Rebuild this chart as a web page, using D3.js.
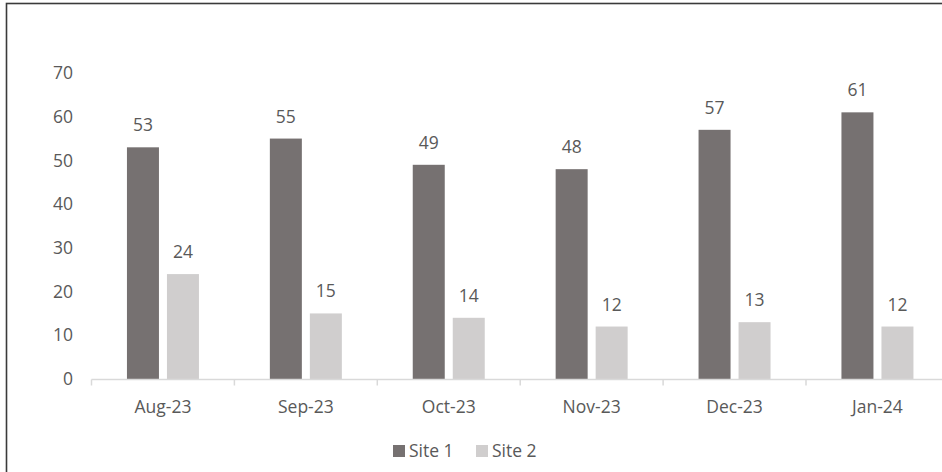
<!DOCTYPE html>
<html>
<head>
<meta charset="utf-8">
<script src="https://cdn.jsdelivr.net/npm/d3@7"></script>
<style>
html,body{margin:0;padding:0;background:#fff;}
svg{display:block;}
text{font-family:"Open Sans","Noto Sans",sans-serif;fill:#595959;}
</style>
</head>
<body>
<svg id="chart" width="942" height="472"></svg>
<script>
const categories = ["Aug-23","Sep-23","Oct-23","Nov-23","Dec-23","Jan-24"];
const seriesNames = ["Site 1","Site 2"];
const site1 = [53,55,49,48,57,61];
const site2 = [24,15,14,12,13,12];
const yTicks = [0,10,20,30,40,50,60,70];
const colors = ["#767171","#d0cece"];

const svg = d3.select("#chart");
const W = 942, H = 472;
svg.append("rect").attr("x",0).attr("y",0).attr("width",W).attr("height",H).attr("fill","#fff");
// outer frame (right/bottom clipped in reference)
svg.append("rect").attr("x",6.5).attr("y",3.5).attr("width",W+20).attr("height",H+20)
  .attr("fill","none").attr("stroke","#3a3a3a").attr("stroke-width",1.6);

const plotLeft = 91.5, step = 142.9;
const x = d3.scaleBand().domain(categories).range([plotLeft, plotLeft + step*categories.length]).paddingInner(0).paddingOuter(0);
const y = d3.scaleLinear().domain([0,70]).range([379,73]);

const fontSize = 17.5;

// y tick labels
svg.append("g").selectAll("text").data(yTicks).join("text")
  .attr("x",73).attr("y",d=>y(d)).attr("dy","0.35em")
  .attr("text-anchor","end").attr("font-size",fontSize).text(d=>d);

// bars
const data = categories.map((c,i)=>({cat:c, vals:[site1[i], site2[i]]}));
const groups = svg.append("g").selectAll("g").data(data).join("g");
groups.each(function(d){
  const cx = x(d.cat) + x.bandwidth()/2;
  const x1 = d3.scaleBand().domain(seriesNames).range([cx-36, cx+36]).paddingInner(0.2).paddingOuter(0);
  const g = d3.select(this);
  const rows = seriesNames.map((s,j)=>({s, v:d.vals[j], j}));
  g.selectAll("rect").data(rows).join("rect")
    .attr("x",r=>x1(r.s)).attr("width",x1.bandwidth())
    .attr("y",r=>y(r.v)).attr("height",r=>y(0)-y(r.v))
    .attr("fill",r=>colors[r.j]);
  g.selectAll("text").data(rows).join("text")
    .attr("x",r=>x1(r.s)+x1.bandwidth()/2).attr("y",r=>y(r.v)-16)
    .attr("text-anchor","middle").attr("font-size",fontSize).text(r=>r.v);
});

// x axis
const axisG = svg.append("g");
axisG.append("line").attr("x1",plotLeft).attr("x2",plotLeft+step*categories.length)
  .attr("y1",379.5).attr("y2",379.5).attr("stroke","#d9d9d9").attr("stroke-width",1.5);
const boundaries = d3.range(categories.length+1).map(i=>plotLeft+i*step);
axisG.selectAll("line.tick").data(boundaries).join("line").attr("class","tick")
  .attr("x1",d=>d).attr("x2",d=>d).attr("y1",379.5).attr("y2",385.5)
  .attr("stroke","#d9d9d9").attr("stroke-width",1.5);
axisG.selectAll("text").data(categories).join("text")
  .attr("x",d=>x(d)+x.bandwidth()/2).attr("y",413)
  .attr("text-anchor","middle").attr("font-size",fontSize).text(d=>d);

// legend
const legend = svg.append("g");
const legItems = [{name:seriesNames[0], x:393, c:colors[0]},{name:seriesNames[1], x:476, c:colors[1]}];
legItems.forEach(it=>{
  legend.append("rect").attr("x",it.x).attr("y",445).attr("width",12).attr("height",12).attr("fill",it.c);
  legend.append("text").attr("x",it.x+16).attr("y",457).attr("font-size",fontSize).text(it.name);
});
</script>
</body>
</html>
